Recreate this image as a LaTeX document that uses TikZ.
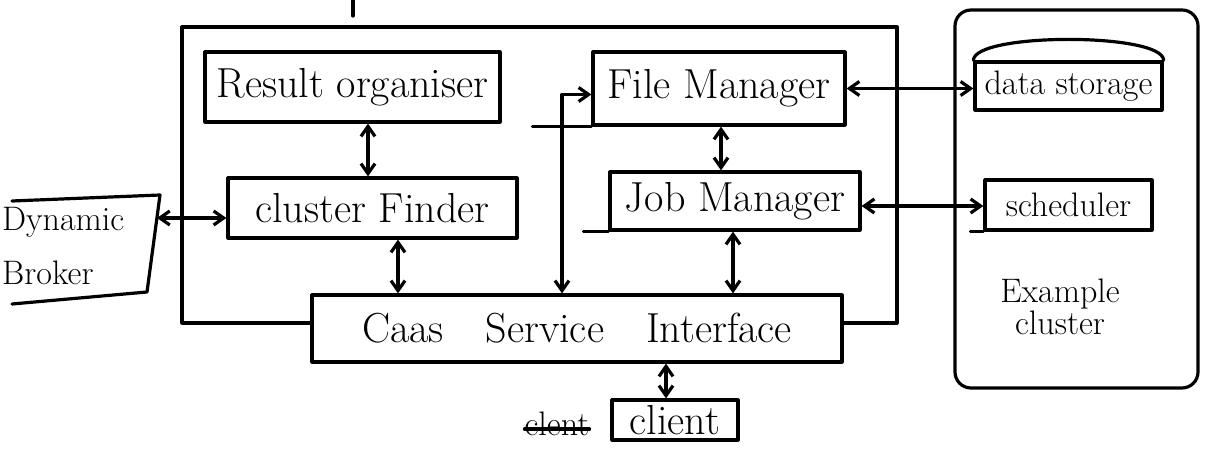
\documentclass[tikz,border=0pt]{standalone}
\usetikzlibrary{arrows.meta,calc}
\begin{document}
\begin{tikzpicture}[x=1pt,y=-1pt,
  pen/.style={line width=3.2pt,line cap=round,line join=round},
  blk/.style={pen,draw,rectangle,inner sep=0pt,fill=white},
  lbl/.style={font=\fontsize{42}{46}\selectfont},
  sml/.style={font=\fontsize{34}{40}\selectfont},
  link/.style={pen,{Straight Barb[length=10pt,width=14pt]}-{Straight Barb[length=10pt,width=14pt]}}]
\useasboundingbox (0,0) rectangle (1208,462);

% CaaS service frame
\node[pen,draw,rectangle,inner sep=0pt,minimum width=715pt,minimum height=296pt] (frame) at (539.5,175) {};
\coordinate (tick) at (353,0);
\draw[pen] (tick) -- ++(0,16);

% example cluster
\node[pen,draw,rectangle,rounded corners=16pt,inner sep=0pt,minimum width=243pt,minimum height=378pt] (excl) at (1076.5,199) {};
\node[sml,align=center] (extxt) at (1060,307) {Example\\[-8pt]cluster};

% components of the service
\node[blk,lbl,minimum width=295pt,minimum height=70pt] (ro) at (352.5,87) {Result organiser};
\node[blk,lbl,minimum width=289pt,minimum height=60pt] (cf) at (372.5,208) {cluster Finder};
\node[blk,lbl,minimum width=252pt,minimum height=73pt] (fm) at (719,88.5) {File Manager};
\node[blk,lbl,minimum width=250pt,minimum height=58pt] (jm) at (735,201) {Job Manager};
\node[blk,lbl,minimum width=530pt,minimum height=67pt] (cs) at (577,328.5) {Caas\quad Service\quad Interface};
\node[blk,lbl,minimum width=126pt,minimum height=40pt] (cl) at (675,420) {client};
\node[sml,inner sep=0pt] (strk) at (557,424) {clent};
\draw[pen] ([yshift=-5pt]strk.west) -- ([yshift=-5pt]strk.east);

% overshooting base lines
\draw[pen] (fm.south west) -- ++(-59,0);
\draw[pen] (jm.south west) -- ++(-25,0);

% cluster resources
\node[blk,sml,minimum width=187pt,minimum height=48pt] (ds) at (1068.5,86) {data storage};
\draw[pen] (ds.north west) .. controls ([yshift=28pt]ds.north west) and ([yshift=28pt]ds.north east) .. (ds.north east);
\node[blk,sml,minimum width=167pt,minimum height=50pt] (sc) at (1068.5,205) {scheduler};
\draw[pen] (sc.south west) -- ++(-13,0);

% dynamic broker (open on the left)
\coordinate (b1) at (12,201);
\coordinate (b2) at (160,195);
\coordinate (b3) at (147,292);
\coordinate (b4) at (12,304);
\draw[pen] (b1) -- (b2) -- (b3) -- (b4);
\node[sml,anchor=west,inner sep=0pt] (dyn) at (2,222) {Dynamic};
\node[sml,anchor=west,inner sep=0pt] (brk) at (2,273) {Broker};
\coordinate (bport) at (157,218);

% connectors
\draw[link] ([xshift=15.5pt]ro.south) -- ([xshift=15.5pt]ro.south |- cf.north);
\draw[link] ([xshift=25.5pt]cf.south) -- ([xshift=25.5pt]cf.south |- cs.north);
\draw[link] ([xshift=2pt]fm.south) -- ([xshift=2pt]fm.south |- jm.north);
\draw[link] ([xshift=-2pt]jm.south) -- ([xshift=-2pt]jm.south |- cs.north);
\draw[link] ([xshift=-9pt]cl.north) -- ([xshift=-9pt]cl.north |- cs.south);
\draw[link] ([yshift=-6pt]fm.west) -| ([xshift=-15pt]cs.north);
\draw[link] (fm.east) -- (fm.east -| ds.west);
\draw[link] ([yshift=-5pt]jm.east) -- ([yshift=-5pt]jm.east -| sc.west);
\draw[link] (bport) -- (bport -| cf.west);
\end{tikzpicture}
\end{document}
